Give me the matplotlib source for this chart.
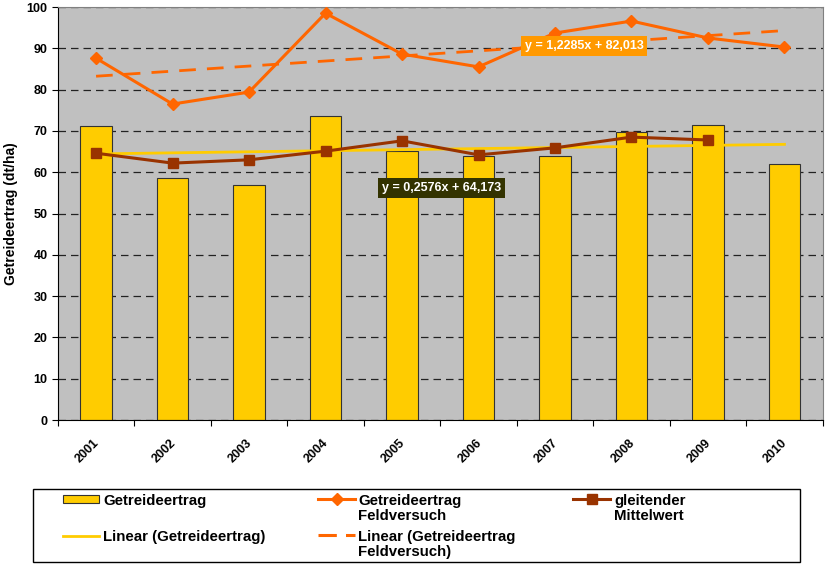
import numpy as np
import matplotlib.pyplot as plt
import matplotlib.transforms as mtransforms
from matplotlib.lines import Line2D
from matplotlib.patches import Rectangle

plt.rcParams['font.family'] = ['Liberation Sans', 'DejaVu Sans']

jahre = ['2001', '2002', '2003', '2004', '2005', '2006', '2007', '2008', '2009', '2010']
getreideertrag = [71.2, 58.6, 56.9, 73.6, 65.1, 63.9, 63.9, 69.7, 71.4, 62.0]
feldversuch = [87.6, 76.5, 79.4, 98.5, 88.6, 85.5, 93.7, 96.6, 92.5, 90.3]
gleitender_mw = [64.6, 62.2, 63.0, 65.1, 67.6, 64.2, 65.9, 68.5, 67.8]
trend_getreide = (0.2576, 64.173)
trend_feld = (1.2285, 82.013)

x = np.arange(1, len(jahre) + 1)

W, H = 826, 565
fig = plt.figure(figsize=(W / 100, H / 100), dpi=100)
ax = fig.add_axes([0.070, 0.2566, 0.926, 0.731])
ax.set_facecolor('#C0C0C0')

ax.bar(x, getreideertrag, width=0.41, color='#FFCC00', edgecolor='#333333', linewidth=0.8, zorder=2)
ax.plot(x, feldversuch, color='#FF6600', lw=2.2, marker='D', ms=6, zorder=4)
ax.plot(x[:len(gleitender_mw)], gleitender_mw, color='#993300', lw=2.2, marker='s', ms=7, zorder=4)
ax.plot(x, trend_getreide[0] * x + trend_getreide[1], color='#FFCC00', lw=2, zorder=3)
ax.plot(x, trend_feld[0] * x + trend_feld[1], color='#FF6600', lw=2, ls=(0, (6, 4)), zorder=3)

ax.text(7.38, 90.6, 'y = 1,2285x + 82,013', color='white', fontsize=9, fontweight='bold',
        ha='center', va='center', zorder=6,
        bbox=dict(boxstyle='square,pad=0.3', fc='#FF9900', ec='none'))
ax.text(5.52, 56.2, 'y = 0,2576x + 64,173', color='white', fontsize=9, fontweight='bold',
        ha='center', va='center', zorder=6,
        bbox=dict(boxstyle='square,pad=0.3', fc='#333300', ec='none'))

ax.set_xlim(0.5, 10.5)
ax.set_ylim(0, 100)
ax.set_yticks(range(0, 101, 10))
ax.yaxis.grid(True, color='#222222', ls=(0, (6, 4)), lw=0.9)
ax.set_axisbelow(True)

# x-Beschriftung: Ticks zwischen den Kategorien, Jahreszahlen schraeg darunter
ax.set_xticks(np.arange(0.5, 10.6, 1))
ax.set_xticklabels([])
ax.tick_params(axis='x', length=4, direction='out')
lab_trans = mtransforms.blended_transform_factory(ax.transData, ax.transAxes) + \
    mtransforms.ScaledTranslation(-3 / 100, -17 / 100, fig.dpi_scale_trans)
for xi, j in zip(x, jahre):
    ax.text(xi, 0, j, transform=lab_trans, rotation=45, ha='right', va='top',
            rotation_mode='anchor', fontsize=9, fontweight='bold')

ax.tick_params(axis='y', length=4, direction='out', labelsize=9)
for lab in ax.get_yticklabels():
    lab.set_fontweight('bold')
ax.set_ylabel('Getreideertrag (dt/ha)', fontsize=10, fontweight='bold', labelpad=6)
for s in ['top', 'right']:
    ax.spines[s].set_color('#808080')
for s in ['left', 'bottom']:
    ax.spines[s].set_color('#000000')

# Legende von Hand (Excel-Layout)
def fx(px):
    return px / W

def fy(py):
    return 1 - py / H

fig.add_artist(Rectangle((fx(33), fy(562)), fx(800) - fx(33), fy(489) - fy(562),
                         transform=fig.transFigure, fill=False, ec='black', lw=1.0))

fig.add_artist(Rectangle((fx(63), fy(503)), fx(99) - fx(63), fy(495) - fy(503),
                         transform=fig.transFigure, fc='#FFCC00', ec='#333333', lw=0.8))
fig.add_artist(Line2D([fx(63), fx(99)], [fy(536), fy(536)], transform=fig.transFigure,
                      color='#FFCC00', lw=2))
fig.add_artist(Line2D([fx(318), fx(355)], [fy(499), fy(499)], transform=fig.transFigure,
                      color='#FF6600', lw=2.2))
fig.add_artist(Line2D([fx(337)], [fy(499)], transform=fig.transFigure, color='#FF6600',
                      marker='D', ms=6))
fig.add_artist(Line2D([fx(318), fx(355)], [fy(535), fy(535)], transform=fig.transFigure,
                      color='#FF6600', lw=2.2, ls=(0, (6, 3))))
fig.add_artist(Line2D([fx(573), fx(610)], [fy(499), fy(499)], transform=fig.transFigure,
                      color='#993300', lw=2.2))
fig.add_artist(Line2D([fx(592)], [fy(499)], transform=fig.transFigure, color='#993300',
                      marker='s', ms=7))

leg_font = dict(fontsize=10.8, fontweight='bold', va='top', ha='left', linespacing=1.1)
fig.text(fx(103), fy(494), 'Getreideertrag', **leg_font)
fig.text(fx(103), fy(530), 'Linear (Getreideertrag)', **leg_font)
fig.text(fx(358), fy(494), 'Getreideertrag\nFeldversuch', **leg_font)
fig.text(fx(358), fy(530), 'Linear (Getreideertrag\nFeldversuch)', **leg_font)
fig.text(fx(614), fy(494), 'gleitender\nMittelwert', **leg_font)

fig.savefig('out.png', dpi=100)
